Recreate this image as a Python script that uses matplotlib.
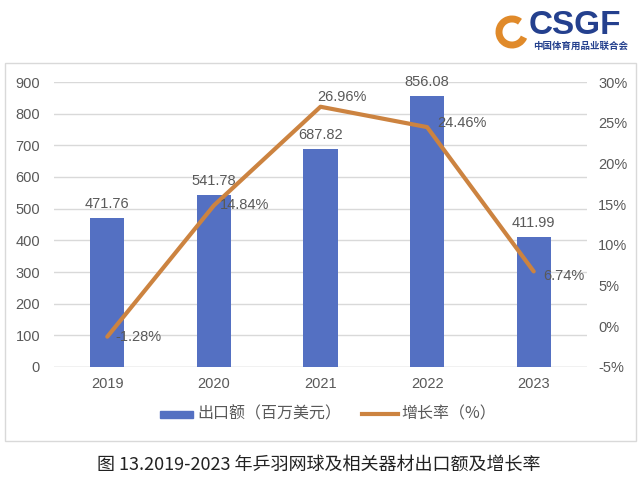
"""出口额及增长率图表。"""

import matplotlib.pyplot as plt
from matplotlib.patches import Rectangle, Arc

years = ['2019', '2020', '2021', '2022', '2023']
export_value = [471.76, 541.78, 687.82, 856.08, 411.99]
growth_rate = [-1.28, 14.84, 26.96, 24.46, 6.74]
# 标签偏移 (points)
rate_offsets = [(6, 0), (4, 0), (-2, 7), (7, 3), (7, -3)]

left_ticks = list(range(0, 1000, 100))
right_ticks = list(range(-5, 35, 5))

bar_color = '#5470C2'
line_color = '#CC8340'
text_color = '#595959'
grid_color = '#D9D9D9'
num_font = ['Liberation Sans', 'Noto Sans CJK SC']
cjk_font = ['Noto Sans CJK SC', 'DejaVu Sans']

W, H = 643, 479
fig = plt.figure(figsize=(W / 100, H / 100), dpi=100)

# 外框
fig.patches.append(Rectangle((5 / W, 1 - 441 / H), 631 / W, 378 / H,
                             transform=fig.transFigure, fill=False,
                             edgecolor=grid_color, linewidth=1))

ax = fig.add_axes([54 / W, 1 - 367 / H, (587 - 54) / W, (367 - 82) / H])
x = list(range(len(years)))
ax.bar(x, export_value, width=0.32, color=bar_color, zorder=2)
ax.set_xlim(-0.5, len(years) - 0.5)
ax.set_ylim(0, 900)
ax.set_yticks(left_ticks)
ax.set_xticks(x)
ax.set_xticklabels(years)
for s in ax.spines.values():
    s.set_visible(False)
ax.axhline(0, color=grid_color, linewidth=1, zorder=1)
ax.grid(axis='y', color=grid_color, linewidth=1, zorder=0)
ax.tick_params(axis='both', length=0, labelcolor=text_color, labelsize=10.5)
ax.tick_params(axis='y', pad=10)
ax.tick_params(axis='x', pad=7)
for lab in ax.get_xticklabels() + ax.get_yticklabels():
    lab.set_family(num_font)

for xi, v in zip(x, export_value):
    ax.annotate(f'{v:.2f}', (xi, v), xytext=(0, 5), textcoords='offset points',
                ha='center', va='bottom', fontsize=10.5, color=text_color,
                family=num_font)

ax2 = ax.twinx()
ax2.plot(x, growth_rate, color=line_color, linewidth=3, solid_capstyle='round',
         zorder=3)
ax2.set_ylim(-5, 30)
ax2.set_yticks(right_ticks)
ax2.set_yticklabels([f'{t}%' for t in right_ticks])
for s in ax2.spines.values():
    s.set_visible(False)
ax2.tick_params(axis='y', length=0, labelcolor=text_color, labelsize=10.5, pad=8)
for lab in ax2.get_yticklabels():
    lab.set_family(num_font)

for xi, r, off in zip(x, growth_rate, rate_offsets):
    ax2.annotate(f'{r:.2f}%', (xi, r), xytext=off, textcoords='offset points',
                 ha='left', va='center', fontsize=10.5, color=text_color,
                 family=num_font)

# 图例
leg_y = 1 - 414 / H
fig.patches.append(Rectangle((160 / W, leg_y - 3.5 / H), 33 / W, 7 / H,
                             transform=fig.transFigure, color=bar_color))
fig.text(197 / W, leg_y, '出口额（百万美元）', ha='left', va='center',
         fontsize=11.5, color=text_color, family=cjk_font)
fig.lines.append(plt.Line2D([362 / W, 398 / W], [leg_y, leg_y],
                            transform=fig.transFigure, color=line_color,
                            linewidth=3))
fig.text(401 / W, leg_y, '增长率（%）', ha='left', va='center',
         fontsize=11.5, color=text_color, family=cjk_font)

# 标题
fig.text(319 / W, 1 - 465 / H, '图 13.2019-2023 年乒羽网球及相关器材出口额及增长率',
         ha='center', va='center', fontsize=13, color='#222222', family=cjk_font)

# 标志
fig.patches.append(Arc((512 / W, 1 - 32 / H), 26 / W, 26 / H, theta1=60,
                       theta2=330, transform=fig.transFigure,
                       color='#E08A2A', linewidth=5))
fig.text(529 / W, 1 - 26 / H, 'CSGF', ha='left', va='center', fontsize=24,
         fontweight='bold', color='#24408E', family=['Liberation Sans'])
fig.text(581 / W, 1 - 46 / H, '中国体育用品业联合会', ha='center', va='center',
         fontsize=6.8, fontweight='bold', color='#24408E', family=cjk_font)

fig.savefig('out.png', dpi=100)
